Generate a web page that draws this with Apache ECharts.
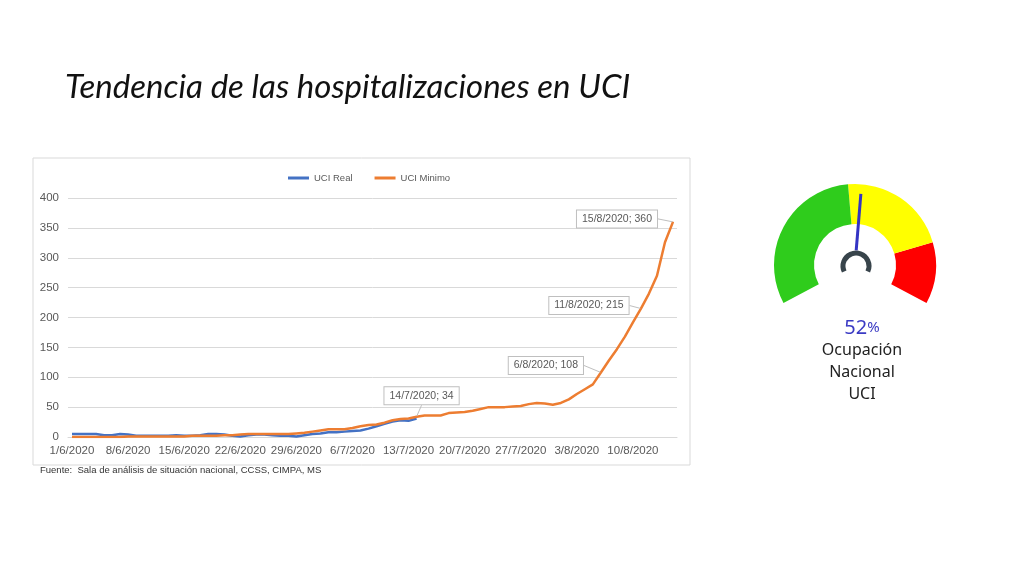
<!DOCTYPE html>
<html>
<head>
<meta charset="utf-8">
<script src="https://cdn.jsdelivr.net/npm/echarts@6/dist/echarts.min.js"></script>
<style>
html,body{margin:0;padding:0;background:#fff;}
#c{width:1024px;height:576px;}
</style>
</head>
<body>
<div id="c"></div>
<script>
const categories = [
 '1/6/2020','2/6/2020','3/6/2020','4/6/2020','5/6/2020','6/6/2020','7/6/2020',
 '8/6/2020','9/6/2020','10/6/2020','11/6/2020','12/6/2020','13/6/2020','14/6/2020',
 '15/6/2020','16/6/2020','17/6/2020','18/6/2020','19/6/2020','20/6/2020','21/6/2020',
 '22/6/2020','23/6/2020','24/6/2020','25/6/2020','26/6/2020','27/6/2020','28/6/2020',
 '29/6/2020','30/6/2020','1/7/2020','2/7/2020','3/7/2020','4/7/2020','5/7/2020',
 '6/7/2020','7/7/2020','8/7/2020','9/7/2020','10/7/2020','11/7/2020','12/7/2020',
 '13/7/2020','14/7/2020','15/7/2020','16/7/2020','17/7/2020','18/7/2020','19/7/2020',
 '20/7/2020','21/7/2020','22/7/2020','23/7/2020','24/7/2020','25/7/2020','26/7/2020',
 '27/7/2020','28/7/2020','29/7/2020','30/7/2020','31/7/2020','1/8/2020','2/8/2020',
 '3/8/2020','4/8/2020','5/8/2020','6/8/2020','7/8/2020','8/8/2020','9/8/2020',
 '10/8/2020','11/8/2020','12/8/2020','13/8/2020','14/8/2020','15/8/2020'
];
const uciReal = [
 5,5,5,5,3,3,5, 4,2,2,2,2,2,3, 2,2,3,5,5,4,2, 1,3,4,4,3,2,2,
 1,3,5,6,8,8,9, 10,11,14,18,22,26,28, 27,31
];
const uciMinimo = [
 0,0,0,0,0,0,0, 1,1,1,1,1,1,1, 1,2,2,2,2,3,3, 4,5,5,5,5,5,5,
 6,7,9,11,13,13,13, 15,18,20,21,24,28,30, 31,34,36,36,36,40,41,
 42,44,47,50,50,50,51, 52,55,57,56,54,57,63, 72,80,88,108,128,147,168,
 192,215,240,270,326,360
];
const labeledIdx = [43, 66, 71, 75];
const labelOffsets = {43:[5,-21], 66:[-55,-7], 71:[-52,-3], 75:[-56,-3]};
const yTicks = {min:0, max:400, interval:50};
const occupancy = 52;
const gaugeName = 'Ocupación\nNacional\nUCI';

const chart = echarts.init(document.getElementById('c'));
const minimoData = uciMinimo.map((v,i)=> labeledIdx.includes(i)
  ? {value:v, symbol:'circle', symbolSize:1, label:{show:true}}
  : {value:v});

chart.setOption({
  animation:false,
  backgroundColor:'#fff',
  title:{
    text:'Tendencia de las hospitalizaciones en UCI',
    left:60, top:66,
    textStyle:{fontFamily:'Lato', fontStyle:'italic', fontWeight:'normal', fontSize:33, color:'#111'}
  },
  graphic:[
    {type:'rect', shape:{x:33,y:158,width:657,height:307}, style:{fill:'none', stroke:'#d9d9d9', lineWidth:1}, z:-1},
    {type:'text', left:40, top:465, style:{text:'Fuente:  Sala de análisis de situación nacional, CCSS, CIMPA, MS', fontSize:9.5, fontFamily:'Liberation Sans', fill:'#333'}}
  ],
  legend:{
    top:168, left:283,
    itemWidth:21, itemHeight:3, itemGap:22, icon:'rect',
    textStyle:{fontSize:9.5, color:'#595959', fontFamily:'Liberation Sans'},
    data:['UCI Real','UCI Minimo']
  },
  grid:{left:68, right:347, top:198, bottom:139},
  xAxis:{
    type:'category', data:categories, boundaryGap:true,
    axisTick:{show:false},
    axisLine:{lineStyle:{color:'#d9d9d9'}},
    axisLabel:{interval:6, color:'#595959', fontSize:11.5, fontFamily:'Liberation Sans', margin:8}
  },
  yAxis:{
    type:'value', min:yTicks.min, max:yTicks.max, interval:yTicks.interval,
    axisLine:{show:false}, axisTick:{show:false},
    splitLine:{lineStyle:{color:'#d9d9d9'}},
    axisLabel:{color:'#595959', fontSize:11.5, fontFamily:'Liberation Sans', margin:9}
  },
  series:[
    {name:'UCI Real', type:'line', data:uciReal, symbol:'none', lineStyle:{width:2.5, color:'#4472c4'}, itemStyle:{color:'#4472c4'}, z:2},
    {name:'UCI Minimo', type:'line', data:minimoData, symbol:'circle', symbolSize:0, showSymbol:true, showAllSymbol:true,
     lineStyle:{width:2.5, color:'#ed7d31'}, itemStyle:{color:'#ed7d31'}, z:3,
     label:{show:false, position:'inside', formatter:'{b}; {c}', fontSize:10.5, color:'#595959', fontFamily:'Liberation Sans',
            backgroundColor:'#fff', borderColor:'#bfbfbf', borderWidth:1, padding:[3,5]},
     labelLine:{show:true, lineStyle:{color:'#bfbfbf', width:1}},
     labelLayout:function(p){ const o = labelOffsets[p.dataIndex]; return o ? {dx:o[0], dy:o[1]} : {}; }
    },
    {type:'gauge', center:[855,265], radius:81, startAngle:208, endAngle:-28, min:0, max:100,
     axisLine:{lineStyle:{width:40, color:[[0.479,'#2fcc1c'],[0.812,'#ffff00'],[1,'#ff0000']]}},
     splitLine:{show:false}, axisTick:{show:false}, axisLabel:{show:false},
     pointer:{icon:'rect', length:'70%', width:3, offsetCenter:[0,'-18%'], itemStyle:{color:'#3434c4'}},
     anchor:{show:false},
     title:{offsetCenter:[7,107], fontSize:16, lineHeight:22, color:'#222', fontFamily:'Noto Sans'},
     detail:{offsetCenter:[7,63], formatter:function(v){return '{a|'+v+'}{b|%}';},
       rich:{a:{fontSize:20, fontWeight:'normal', color:'#3b3bc4', fontFamily:'Noto Sans'}, b:{fontSize:15, fontWeight:'normal', color:'#3b3bc4', fontFamily:'Noto Sans'}}},
     data:[{value:occupancy, name:gaugeName}]
    },
    {type:'gauge', center:[856,266], radius:15.5, startAngle:205, endAngle:-25,
     axisLine:{lineStyle:{width:5, color:[[1,'#38444b']]}},
     splitLine:{show:false}, axisTick:{show:false}, axisLabel:{show:false},
     pointer:{show:false}, anchor:{show:false}, title:{show:false}, detail:{show:false},
     data:[{value:0}]
    }
  ]
});
</script>
</body>
</html>
